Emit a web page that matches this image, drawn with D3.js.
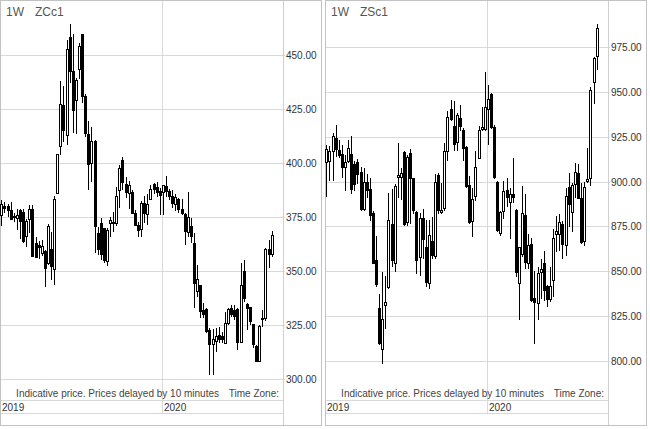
<!DOCTYPE html>
<html><head><meta charset="utf-8">
<script src="https://cdn.jsdelivr.net/npm/d3@7/dist/d3.min.js"></script>
<style>body{margin:0;background:#fff}svg{display:block}text{font-family:"Liberation Sans",Arial,sans-serif}</style>
</head><body><svg id="c" width="650" height="429"></svg>
<script>
// Weekly bars, first week ending 2019-01-04
const startWeek = new Date(2019, 0, 4);
const yearTicks = [new Date(2019, 0, 1), new Date(2020, 0, 1)];
const yearLabels = ["2019", "2020"];

// ZCc1 (corn)
const zcTitle = ["1W", "ZCc1"];
const zcTicks = [300, 325, 350, 375, 400, 425, 450];
const zcOpen  = [376,380,380,378,375.5,374.5,378,377,366,373.8,378.7,362.7,362,358.3,359,353.4,360,351,386.1,407.7,426.7,413,458.2,442.3,429.2,443.4,459.6,430.7,413.4,400,410,367.6,372.2,370,354.5,372,372.8,372.2,387.6,401.5,390,386,386.4,376.9,371,369.2,381.5,376.1,383.3,390,389,387,386.4,389.2,386.9,384.6,381,383.3,378.7,376.5,368,370.7,362.7,340.6,343.2,332,332.4,322.5,315.9,317.4,320.5,320,316.7,326,332.9,332,332.4,317.1,349.8,334.7,333.3,325.6,315.4,308.2,327.5,328.2,360.3,358];
const zcHigh  = [383,382,381,382,377,379,379,379,374,380.7,380.7,366,364,364.5,360,372,368.4,384.9,404.5,438,436,457,464.4,460,439.7,455.7,460,432.3,419.6,417,410.6,370.7,374.5,370,370,375.3,377.6,389.2,399.2,402.8,393.8,391.8,387.7,378.4,373,382.7,384.9,385.8,390,391,391.5,388.5,390,394,388,387.7,386,383.8,383.3,376.9,386.9,374.5,367.6,352.9,343.2,335.2,332.9,323.6,323.2,323.6,324.4,322,331.3,332.9,334.4,334.4,332.9,353.7,355.2,335.2,333.7,325.6,316,325,332.1,361,364.5,368.7];
const zcLow   = [371,377,375,374,373,369,365,363,361.4,367.9,356.8,356,355.5,357,342.6,353,346,343.6,386,404,410,408.5,437,414,413.7,439,428,412,387.7,391.5,358.3,357.6,355.2,353.7,352.5,366,368.4,371,379.2,387.7,383.8,378.7,376.9,371,366,366,372.2,371.4,383,386,384.6,376,376,384.6,383,379.2,378,376.9,376.1,362.2,366,363,332.9,338.3,328.3,328.3,321.3,302,302,312.8,316.7,317,316.7,325.2,329,327.5,313.6,317,335.9,322.9,325.2,314.4,308,308,324.4,327,351.4,356.8];
const zcClose = [381,379,378,374,375,376,373,364,373,378.4,356.8,356.5,361,361.4,351.4,370.7,352,383.3,404.2,427,415.3,452.6,442.3,424.5,438.4,454.2,430.7,413.7,399.5,410,370.7,359.9,358,355,369,373.5,372,384.6,397.7,391,386.4,389.5,376.9,371.4,369,381.5,376.9,380.7,388,387.7,386.4,385,389.5,386.9,384.6,381.5,384,378.7,376.9,368.4,375,366,344.4,346.3,331.3,329.8,322.1,315.9,318.2,319.8,318.2,318.2,326,332.1,329.8,329,317.1,343.6,337.5,332.9,326.7,315.9,308.2,324.4,328.3,359.9,358,366.8];

// ZSc1 (soybeans)
const zsTitle = ["1W", "ZSc1"];
const zsTicks = [800, 825, 850, 875, 900, 925, 950, 975];
const zsOpen  = [910.5,911.4,917,924,917.4,915,907.7,911.4,915,909.6,910.5,905,884.5,899.4,895.7,882,855.8,828.9,806.2,830.6,841,876.2,854.4,902.2,902.3,916.5,877,915.5,901.7,882.7,857.7,879.6,863.2,842.9,866.6,858,903.6,882.7,885,916.6,940.1,930.9,921.6,935.5,928.5,919.2,898,878,891.9,912.9,929.2,929.2,940.2,948.5,930.3,899.4,871,883.3,894.8,888.2,892.9,884,842.9,859.5,880.9,854.4,864.7,834.5,832.2,849.4,854,841.4,834,844.7,870.2,870.7,875.8,864.2,896.6,882.7,898.5,904.4,890.7,866.8,900,901.8,955.5,969.8];
const zsHigh  = [920.7,919.8,927.2,931.8,923.5,920.7,915,923.5,925.3,911.4,912.4,908,907.7,904,902.2,883.6,869.7,837.3,849.4,847.5,893.8,895.7,898.5,921.6,907.7,917,915,918,902.2,883.6,882.7,884.6,878.4,878.4,880.3,904,905,899.4,921.6,939.2,945.7,945.2,938.3,942.6,930,919.8,903,896.6,917,930.9,941.8,961.1,954.1,949.4,931.8,900.3,883.6,900.3,902.2,896.6,913.3,884.6,863.2,897.5,893,870.6,868.4,850.3,852.2,856.7,861.4,842,852.2,873.4,881,881.8,878,896.6,905,899.4,910.5,909.6,899.4,900,918.5,952.6,969.8,987.8];
const zsLow   = [891.5,900.3,900.3,914,913.3,902.2,894.8,910.5,892.9,894.8,898.5,883.6,883.6,891,878,854,841.4,808.6,798.4,817.8,840,852.2,849.4,891,890,875.3,875,876.2,881.8,848.5,847.5,856.7,841,840,856.7,856.7,881.8,881.8,883.6,911.4,934,917,917,928,911.4,896.6,876.2,868.8,889.2,912.4,928,928.5,920.7,929.2,901.3,871.6,869.7,879,885.9,867.9,888,846.6,822.5,857.7,851.2,851.2,832.7,809.5,822.9,834.5,833.6,829.9,832.7,835.5,860.5,861.4,856.7,858.6,874.4,871.6,891,890.1,865.1,864.2,899.4,897.5,943.3,962.4];
const zsClose = [917.9,917,925.3,918,914.8,907.7,910.5,918.4,895.7,898.5,904,884.5,899.4,894.8,881,854.4,842.5,809.5,822.9,832.4,878.4,855.8,897.5,903.4,904.5,876.2,913.7,902,883.6,855.8,879.6,867.7,843.8,869.7,858.6,899.4,883.6,883.6,916.6,935.9,934.6,920.7,937,930.9,918.5,897,877,890,907.7,928.5,930,941.4,945.7,930,902.2,872.5,882.7,894.4,891.4,892.9,891.4,849.4,863.2,882.1,854.9,864.2,833.6,832.7,848.8,851.2,839.2,834,841.4,868.4,872,877.1,865.1,891.9,887.3,898,904.9,890.7,866,896.8,901.3,950.7,968.5,985.6];

const svg = d3.select("#c");
svg.append("rect").attr("width", 650).attr("height", 429).attr("fill", "#fff");

function drawPanel(ox, title, ticks, yRange, O, H, L, C) {
  const plotW = 283, panelW = 322, bottom = 425.5;
  const g = svg.append("g");
  const dates = O.map((_, i) => d3.timeDay.offset(startWeek, 7 * i));
  const x = d3.scaleTime().domain(yearTicks).range([ox, ox + 162]);
  const y = d3.scaleLinear().domain([ticks[0], ticks[ticks.length - 1]]).range(yRange);

  // horizontal grid
  g.selectAll(".hg").data(ticks).join("line")
    .attr("x1", ox).attr("x2", ox + plotW + 2)
    .attr("y1", d => Math.round(y(d)) + 0.5).attr("y2", d => Math.round(y(d)) + 0.5)
    .attr("stroke", "#d9d9d9");
  // vertical year grid
  g.selectAll(".vg").data(yearTicks).join("line")
    .attr("x1", d => Math.round(x(d)) + 0.5).attr("x2", d => Math.round(x(d)) + 0.5)
    .attr("y1", 0).attr("y2", 413.5).attr("stroke", "#d9d9d9");
  // time axis strip lines
  g.selectAll(".al").data([400.5, 413.5]).join("line")
    .attr("x1", ox).attr("x2", ox + plotW).attr("y1", d => d).attr("y2", d => d)
    .attr("stroke", "#d9d9d9");
  // separator between plot and price axis
  g.append("line").attr("x1", ox + plotW + 0.5).attr("x2", ox + plotW + 0.5)
    .attr("y1", 0).attr("y2", bottom).attr("stroke", "#d0d0d0");
  // panel border
  g.append("rect").attr("x", ox + 0.5).attr("y", 0.5).attr("width", panelW - 1).attr("height", bottom - 0.5)
    .attr("fill", "none").attr("stroke", "#c2c2c2");

  // candles
  const cg = g.append("g").attr("shape-rendering", "crispEdges");
  const idx = d3.range(O.length);
  cg.selectAll(".wick").data(idx).join("line")
    .attr("x1", i => Math.round(x(dates[i])) + 0.5).attr("x2", i => Math.round(x(dates[i])) + 0.5)
    .attr("y1", i => y(H[i])).attr("y2", i => y(L[i]))
    .attr("stroke", "#000").attr("stroke-width", 1);
  cg.selectAll(".body").data(idx).join("rect")
    .attr("x", i => Math.round(x(dates[i])) - 0.5)
    .attr("width", 2)
    .attr("y", i => y(Math.max(O[i], C[i])))
    .attr("height", i => Math.max(1, Math.abs(y(O[i]) - y(C[i]))))
    .attr("fill", i => C[i] >= O[i] ? "#fff" : "#000")
    .attr("stroke", "#000").attr("stroke-width", 1);

  // price labels
  g.selectAll(".pl").data(ticks).join("text")
    .attr("x", ox + plotW + 3).attr("y", d => y(d) + 4)
    .attr("font-size", 10).attr("fill", "#333")
    .text(d => d3.format(".2f")(d));
  // year labels
  g.selectAll(".yl").data(yearTicks).join("text")
    .attr("x", d => x(d) + 2).attr("y", 411)
    .attr("font-size", 10).attr("fill", "#333")
    .text((d, i) => yearLabels[i]);
  // title
  g.append("text").attr("x", ox + 6).attr("y", 16).attr("font-size", 12).attr("fill", "#555").text(title[0]);
  g.append("text").attr("x", ox + 35).attr("y", 16).attr("font-size", 12).attr("fill", "#555").text(title[1]);
  // footer
  g.append("text").attr("x", ox + 219).attr("y", 397).attr("text-anchor", "end")
    .attr("font-size", 10).attr("fill", "#444").text("Indicative price. Prices delayed by 10 minutes");
  g.append("text").attr("x", ox + 279).attr("y", 397).attr("text-anchor", "end")
    .attr("font-size", 10).attr("fill", "#444").text("Time Zone:");
}

drawPanel(0, zcTitle, zcTicks, [379.3, 55.3], zcOpen, zcHigh, zcLow, zcClose);
drawPanel(325, zsTitle, zsTicks, [360.7, 47.3], zsOpen, zsHigh, zsLow, zsClose);
</script></body></html>
